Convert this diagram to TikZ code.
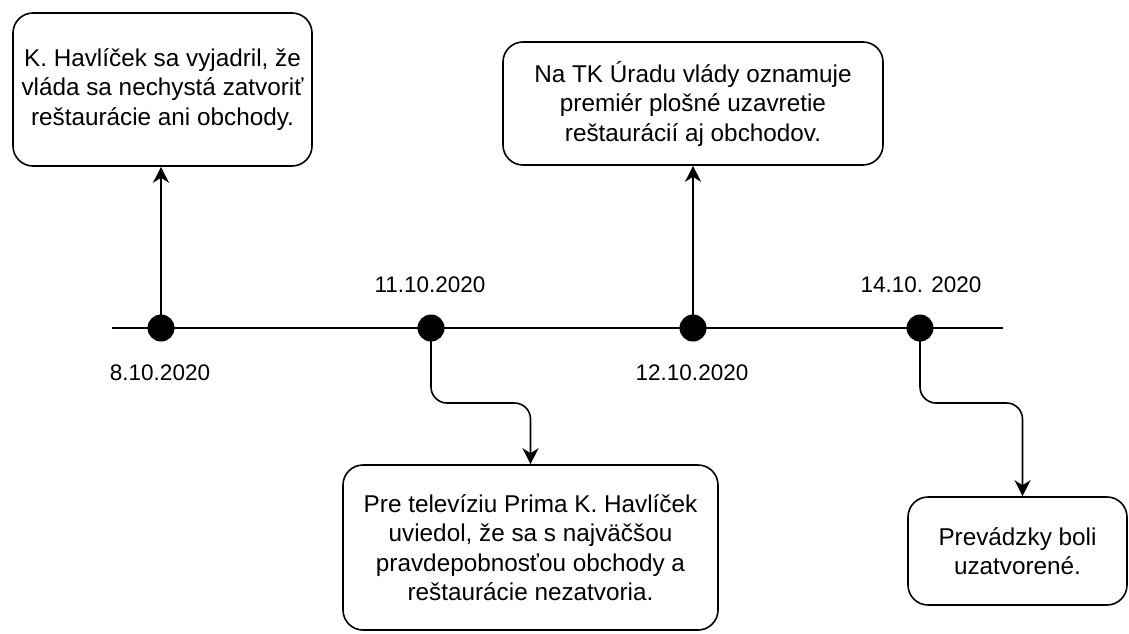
\documentclass[tikz,border=0pt]{standalone}
\usepackage{fontspec}
\setmainfont{Liberation Sans}
\usetikzlibrary{arrows.meta,calc}
\begin{document}
\begin{tikzpicture}[x=1pt,y=-1pt,
  txt/.style={font=\fontsize{22.5}{29}\selectfont, text=black},
  box/.style={font=\fontsize{24.3}{29.5}\selectfont, text=black, draw=black, line width=1.6pt, rounded corners=20pt, align=center, inner sep=0pt},
  dot/.style={circle, fill=black, minimum size=27pt, inner sep=0pt},
  arr/.style={line width=1.6pt, -{Stealth[length=16pt,width=16pt,inset=5pt]}},
  tl/.style={line width=1.6pt}]
\useasboundingbox (0,0) rectangle (1129,634);
% boxes
\node[box, minimum width=299pt, minimum height=153pt] (b1) at (162.5,89.5)
  {K. Havlíček sa vyjadril, že\\vláda sa nechystá zatvoriť\\reštaurácie ani obchody.};
\node[box, minimum width=380pt, minimum height=123pt] (b2) at (693,103.5)
  {Na TK Úradu vlády oznamuje\\premiér plošné uzavretie\\reštaurácií aj obchodov.};
\node[box, minimum width=375pt, minimum height=165pt] (b3) at (530.5,547.5)
  {Pre televíziu Prima K. Havlíček\\uviedol, že sa s najväčšou\\pravdepobnosťou obchody a\\reštaurácie nezatvoria.};
\node[box, minimum width=219pt, minimum height=108pt] (b4) at (1017.5,551)
  {Prevádzky boli\\uzatvorené.};
% timeline
\coordinate (ts) at (112,328);
\coordinate (te) at (1003,328);
\draw[tl] (ts) -- (te);
\node[dot] (d1) at (161,328) {};
\node[dot] (d2) at (431,328) {};
\node[dot] (d3) at (693,328) {};
\node[dot] (d4) at (920,328) {};
% dates
\node[txt] (l1) at (160,373) {8.10.2020};
\node[txt] (l2) at (430,285) {11.10.2020};
\node[txt] (l3) at (692,373) {12.10.2020};
\node[txt] (l4) at (921,285) {14.10. 2020};
% connectors
\draw[arr] (d1.center) -- (d1 |- b1.south);
\draw[arr] (d3.center) -- (d3 |- b2.south);
\draw[arr, rounded corners=16pt] (d2.center) -- (d2 |- 0,403) -| (b3.north);
\draw[arr, rounded corners=16pt] (d4.center) -- (d4 |- 0,403) -| ([xshift=5pt]b4.north);
\end{tikzpicture}
\end{document}
